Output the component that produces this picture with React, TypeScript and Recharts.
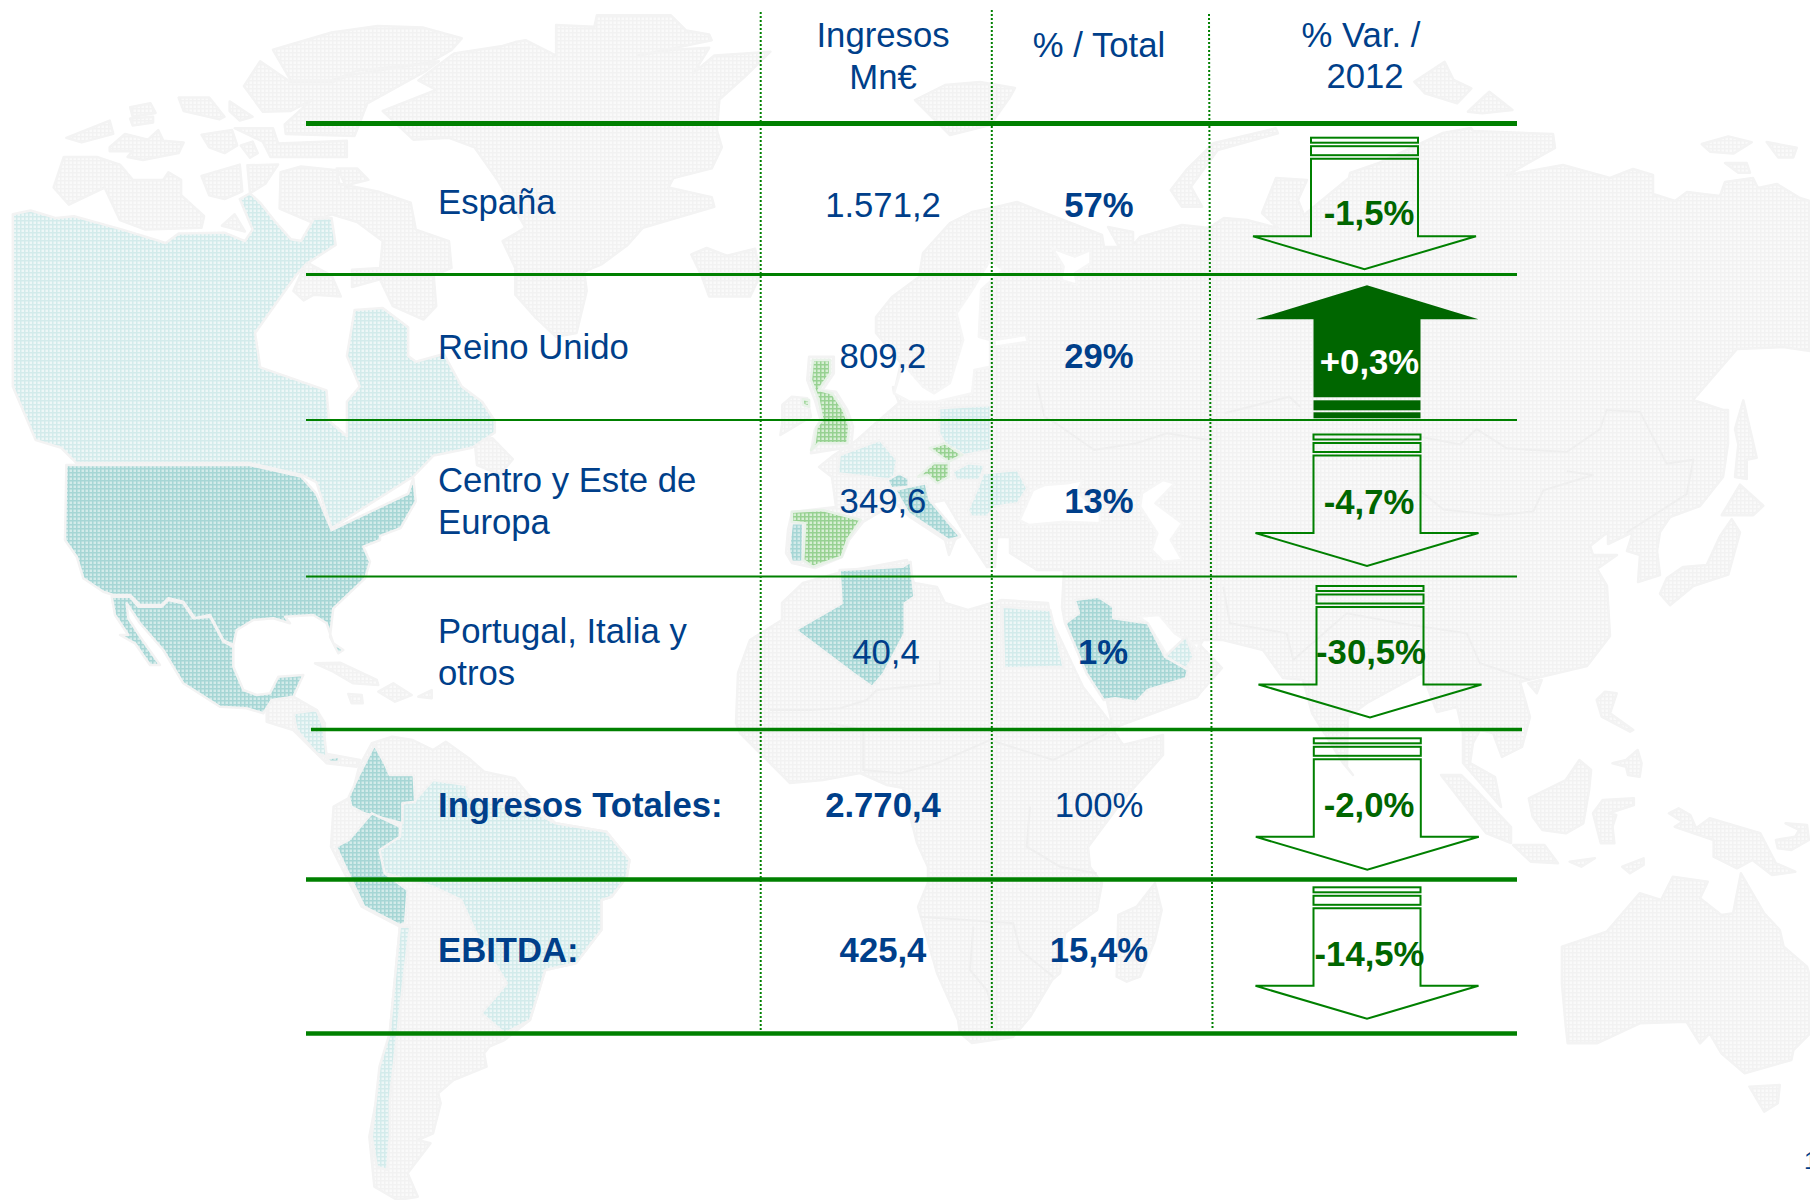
import { ComposedChart, ReferenceLine, Scatter, XAxis, YAxis } from "recharts"

const WIDTH = 1810
const HEIGHT = 1200
const BLUE = "#003f8a"
const GREEN = "#008000"
const DARK_GREEN = "#006600"
const FONT = "'Liberation Sans', Arial, sans-serif"

// table content
const headers = [["Ingresos", "Mn€"], ["% / Total"], ["% Var. /", "2012"]]
const regions = [["España"], ["Reino Unido"], ["Centro y Este de", "Europa"], ["Portugal, Italia y", "otros"], ["Ingresos Totales:"], ["EBITDA:"]]
const ingresos = ["1.571,2", "809,2", "349,6", "40,4", "2.770,4", "425,4"]
const pctTotal = ["57%", "29%", "13%", "1%", "100%", "15,4%"]
const variation = [-1.5, 0.3, -4.7, -30.5, -2.0, -14.5]
const pageNumber = "1"

const boldRegion = [false, false, false, false, true, true]
const boldIngresos = [false, false, false, false, true, true]
const boldPct = [true, true, true, true, false, true]

// table layout, in page pixels
const headerX = [[883, 883], [1099], [1361, 1365]]
const headerBaselines = [[47, 88.5], [57], [47, 88]]
const regionX = 438
const regionBaselines = [[214], [359], [492, 534], [643, 685], [817], [962]]
const ingresosX = [883, 883, 883, 886, 883, 883]
const pctX = [1099, 1099, 1099, 1103, 1099, 1099]
const rowBaseline = [217, 368, 513, 664, 817, 962]
const varX = [1369, 1369.5, 1369, 1371, 1369, 1369.5]
const varBaseline = [225, 374, 514, 664, 817, 966]
const arrowX = [1364.5, 1367, 1367, 1370, 1367.3, 1367]
const arrowTop = [137.7, 285.3, 434.5, 586, 738.3, 887.3]

const hRules = [
  { y: 123.5, x1: 306, x2: 1517, w: 5 },
  { y: 274.5, x1: 306, x2: 1517, w: 3 },
  { y: 420, x1: 306, x2: 1517, w: 2 },
  { y: 576.5, x1: 306, x2: 1517, w: 2 },
  { y: 729.5, x1: 311, x2: 1522, w: 3.5 },
  { y: 879.5, x1: 306, x2: 1517, w: 4.5 },
  { y: 1033.5, x1: 306, x2: 1517, w: 4.5 },
]
const vRules = [
  { x1: 760.7, y1: 12, x2: 760.7, y2: 1030 },
  { x1: 991.8, y1: 10, x2: 991.8, y2: 1030 },
  { x1: 1209, y1: 14, x2: 1212.5, y2: 1030 },
]

const crop = (ox: number, oy: number, sx: number, sy: number, pts: string) =>
  pts.trim().split(/\s+/).map((p) => {
    const [x, y] = p.split(",").map(Number)
    return `${(ox + x / sx).toFixed(1)},${(oy + y / sy).toFixed(1)}`
  }).join(" ")
const z2 = (s: string) => crop(0, 0, 1.96, 2.613, s)
const z3 = (s: string) => crop(700, 340, 2.613, 3, s)
const z4 = (s: string) => crop(1200, 700, 2.57, 3, s)
const z5 = (s: string) => crop(1400, 100, 3, 2.613, s)
const z6 = (s: string) => crop(280, 700, 1.96, 3, s)
const z7 = (s: string) => crop(40, 540, 3, 3, s)
const z8 = (s: string) => crop(740, 100, 2.24, 3, s)
const z9 = (s: string) => crop(1180, 500, 3, 3, s)
const z10 = (s: string) => crop(740, 640, 3, 3, s)
const z1 = (s: string) => crop(1000, 0, 2.8, 3, s)

const eurasia =
  "972,212 992,208 1017,202 1037,210 1102,235 1104,247 1119,247 1108,227 1133,232 1133,245 1140,237 1182,225 1209,228 1224,218 1247,220 1278,228 1262,213 1276,178 1307,180 1298,200 1304,215 1349,178 1350,173 1379,163 1443,133 1471,128 1473,131 1553,134 1555,148 1507,175 1563,165 1610,178 1633,169 1653,175 1653,194 1675,201 1687,192 1720,196 1725,182 1753,178 1758,188 1777,184 1800,198 1810,201 1810,351 1783,347 1737,349 1693,400 1723,410 1728,410 1728,444 1723,477 1700,506 1670,517 1660,532 1657,551 1660,575 1638,582 1640,555 1627,551 1633,532 1608,544 1608,532 1590,546 1593,555 1617,555 1597,569 1607,586 1610,636 1587,666 1520,682 1530,717 1522,747 1502,757 1493,733 1480,730 1473,743 1470,763 1495,777 1501,807 1463,763 1463,733 1457,707 1437,712 1422,673 1367,703 1348,717 1347,767 1353,775 1343,763 1312,713 1303,680 1283,678 1263,650 1223,640 1203,640 1200,645 1222,668 1200,693 1197,697 1113,728 1106,697 1087,673 1065,623 1062,607 1064,570 1037,570 1010,553 1010,537 997,537 995,567 987,567 964,532 945,500 930,503 960,535 955,540 949,555 945,540 910,517 895,503 863,522 849,540 842,557 815,568 792,563 786,553 788,530 792,512 836,507 832,477 819,467 834,455 857,440 876,423 899,403 893,387 894,393 901,363 876,333 876,317 892,297 919,277 923,253 950,223"
const africa =
  "838,573 803,583 782,603 782,620 750,640 738,673 736,723 740,733 760,753 790,783 823,780 860,773 887,785 903,788 917,843 928,867 928,883 918,907 937,973 958,1020 960,1033 972,1043 1013,1037 1030,1017 1052,980 1060,973 1065,933 1097,910 1102,883 1090,867 1088,847 1123,800 1163,755 1163,735 1123,745 1115,733 1112,725 1083,687 1050,617 1048,603 1002,600 968,610 945,603 937,587 914,583 907,560"

const grayLand = [
  eurasia,
  africa,
  z2("890,140 985,120 1010,110 1030,105 1090,145 1090,65 1165,70 1170,40 1315,40 1345,80 1390,90 1395,105 1250,145 1320,130 1390,125 1360,190 1400,145 1510,135 1460,200 1410,260 1405,340 1415,385 1395,440 1320,465 1310,490 1395,515 1400,540 1260,595 1230,640 1180,690 1145,710 1150,760 1130,870 1090,880 1050,830 1010,770 1010,700 985,630 1030,595 975,470 930,385 880,360 810,365 750,290 855,235 820,210 865,165"),
  z2("1355,665 1385,648 1425,668 1480,650 1490,720 1470,775 1390,775 1375,720"),
  z2("535,130 650,85 740,68 830,72 905,100 885,130 840,165 700,185 650,210 570,210"),
  z2("510,160 570,215 650,215 690,195 860,160 835,185 720,270 695,355 560,350 558,325 610,262 570,290 515,292 478,225"),
  z2("130,360 215,315 222,350 160,372"),
  z2("255,280 295,270 305,295 260,305"),
  z2("255,310 300,305 300,320 260,328"),
  z2("350,255 410,255 440,305 430,312 360,290"),
  z2("450,265 495,305 470,315 450,290"),
  z2("215,385 245,350 290,365 310,340 320,368 360,372 350,400 280,418 250,410 260,395 215,395"),
  z2("395,352 455,340 465,380 440,400 410,385"),
  z2("460,335 535,335 545,375 680,368 680,410 530,410 515,370"),
  z2("472,380 495,370 505,400 490,412"),
  z2("125,410 190,410 235,430 260,470 320,470 330,450 355,470 355,510 400,565 395,595 285,600 235,575 205,490 135,535 105,490"),
  z2("395,460 470,430 475,500 440,520 410,510"),
  z2("485,432 545,430 520,480 490,505"),
  z2("550,450 590,435 660,445 665,480 740,500 805,530 815,600 880,630 885,700 850,720 855,800 830,835 770,800 745,730 690,750 690,705 745,700 750,630 700,580 650,560 610,580 548,545"),
  z2("660,440 700,440 722,470 690,480 680,490"),
  z2("435,590 460,560 480,605"),
  z2("575,760 600,685 650,720 668,775 615,770 595,785"),
  z2("930,1150 965,1145 1005,1200 980,1240 935,1215"),
  z7("825,370 900,368 1010,420 1015,435 940,430 880,395"),
  z7("1015,455 1060,430 1115,465 1065,485"),
  z7("925,462 965,465 968,490 935,490"),
  z7("1135,470 1175,450 1175,475"),
  z7("680,505 700,470 760,470 830,510 855,550 850,640 960,660 950,680 860,670 760,570 680,545"),
  z6("180,130 220,110 260,120 300,150 325,125 370,175 400,215 460,235 490,290 540,370 640,395 685,480 680,530 650,590 630,600 630,690 580,790 520,810 490,960 440,1020 410,1040 400,1060 405,1100 340,1140 310,1180 315,1210 300,1300 270,1320 295,1330 250,1420 270,1490 230,1500 185,1460 175,1310 185,1230 215,1000 235,680 160,620 100,440 105,320 140,290 155,200"),
  z10("1245,730 1265,810 1245,900 1200,1010 1160,1025 1130,1010 1135,825 1190,800"),
  z3("215,195 240,170 280,175 290,230 210,285 215,250"),
  z3("285,50 350,50 350,100 320,150 355,155 385,210 400,260 395,320 290,340 295,300 300,270 315,240 300,180 280,120"),
  z8("965,270 1000,210 1060,130 1200,85 1205,100 1070,150 1010,260 1035,320 990,320"),
  "915,100 945,85 980,82 1015,88 1010,97 990,125 950,135 930,115",
  z1("1160,245 1245,185 1270,240 1320,265 1280,310 1190,280"),
  z1("1310,335 1370,275 1435,330 1350,340"),
  z5("905,115 985,95 1055,110 1000,140 930,135"),
  z5("1100,110 1190,125 1180,150 1135,150"),
  z5("975,165 1040,165 1050,190 1015,190"),
  z5("1005,860 1030,785 1070,935 1040,940 1040,990 1005,985 1015,900"),
  z5("965,1085 1020,1005 1090,1060 1060,1085"),
  z5("780,1290 800,1250 850,1220 920,1215 960,1140 995,1095 1020,1130 985,1240 880,1270 810,1320"),
  z9("1045,550 1085,540 1070,580"),
  z9("1250,600 1275,575 1310,580 1290,640 1360,690 1350,695 1265,650"),
  "1441,775 1461,775 1478,792 1511,827 1511,843 1486,833",
  z4("845,295 940,240 975,180 1005,210 1000,270 985,370 940,400 880,390 855,350"),
  z4("1010,340 1035,300 1115,295 1115,315 1050,340 1070,345 1060,380 1065,430 1030,430"),
  z4("805,435 885,435 920,490 850,485"),
  z4("950,485 1015,475 980,500"),
  z4("1085,500 1140,475 1140,495 1105,520"),
  z4("1060,190 1095,180 1125,150 1135,190 1130,230 1100,225 1095,200"),
  z4("1205,340 1230,325 1260,345 1275,385 1310,355 1440,400 1480,490 1530,515 1470,525 1420,480 1380,505 1320,470 1320,420 1220,380 1240,365"),
  z4("1505,370 1560,375 1565,420 1520,450 1485,445 1480,420 1530,410 1540,390"),
  z4("930,740 1045,695 1130,580 1185,600 1215,530 1305,545 1285,595 1340,645 1370,640 1390,520 1450,640 1490,690 1500,740 1560,800 1568,830 1568,1000 1525,1050 1520,1080 1400,1120 1340,1060 1310,1000 1285,1030 1250,965 1130,970 1020,1030 945,1030 940,980 930,850"),
  z4("1412,1160 1490,1155 1485,1210 1450,1235"),
]
const seas = [
  z3("835,540 870,450 900,435 960,430 1000,420 985,455 1045,520 1045,550 950,545 860,555"),
  z3("1155,460 1210,420 1240,430 1190,490 1260,550 1230,600 1260,660 1210,665 1180,630 1195,580 1150,500"),
  z3("1145,830 1200,825 1240,880 1280,910 1305,910 1300,930 1270,890 1220,945 1170,850"),
  z8("700,445 750,470 785,450 785,490 750,520 755,555 720,540 725,500"),
  z8("560,480 590,510 540,570 535,710 560,720 560,800 525,810 520,880 440,905 380,905 345,880 365,790 410,860 435,880 470,850 500,720 485,640 520,570"),
  z8("570,720 640,705 645,725 570,740"),
]
const lightTeal = [
  z2("25,560 60,550 110,570 145,565 240,600 325,635 350,610 440,608 480,630 495,600 470,520 490,505 510,530 540,580 570,625 590,630 615,572 650,570 658,640 600,690 580,720 500,870 510,960 640,1020 645,1100 680,1140 680,1050 705,1010 680,930 695,810 750,805 800,855 800,930 815,945 870,925 905,1010 945,1050 970,1100 970,1130 925,1170 850,1190 810,1245 650,1380 620,1260 590,1240 490,1210 150,1210 120,1170 70,1150 25,1010"),
  z7("760,520 830,510 850,560 860,650 830,640 770,570"),
  z6("200,430 235,410 240,310 262,305 300,240 365,255 370,290 490,330 540,370 640,395 685,480 680,530 650,590 630,600 630,690 580,790 520,810 490,960 440,1000 395,940 445,850 385,700 355,600 300,560 205,520 190,470"),
  z6("235,680 255,680 245,800 230,1000 215,1200 215,1310 210,1410 190,1400 180,1310 195,1100 215,1000"),
  z3("365,345 470,300 515,360 505,420 360,400"),
  z3("625,205 760,195 760,330 690,345 640,310 625,280"),
  z3("660,395 700,370 745,375 730,420 670,420"),
  z3("740,400 830,390 855,445 830,490 770,500 750,530 710,530 700,510 720,460"),
  z3("790,800 915,810 950,980 795,985"),
  z3("1215,950 1270,890 1290,950 1270,985"),
]
const teal = [
  // USA: northern border from the overview crop, southern coast from the detail crop
  z2("130,1215 490,1215 590,1245 620,1290 650,1385 800,1290 810,1250 815,1310 785,1380 745,1400") + " " +
    z7("1020,0 970,20 990,65 975,115 880,205 870,290 895,340 910,330 880,310 860,250 820,225 735,230 750,250 700,235 640,240 590,270 580,315 550,300 510,225 465,235 430,185 385,175 365,195 300,195 270,165 220,165 190,155 130,115 110,50 75,0"),
  z7("215,170 270,170 295,200 365,200 385,180 430,190 460,235 510,230 550,305 580,320 580,380 610,450 650,465 690,460 715,410 790,405 760,470 695,480 670,520 620,505 540,500 430,430 370,330 300,250 260,190 265,235 300,290 360,375 330,375 285,310 240,285 265,285 225,225"),
  z7("860,655 900,650 895,665 870,665"),
  z6("185,135 205,190 215,225 262,225 265,305 240,310 240,370 165,340 140,320 135,290 155,225"),
  z6("135,420 180,340 235,380 235,410 195,450 205,520 250,570 245,670 235,675 165,620 110,440"),
  z3("365,690 530,680 550,665 560,770 535,790 535,880 480,1000 450,1040 400,1000 250,870 370,790"),
  z3("980,780 1040,770 1080,800 1080,835 1170,850 1215,950 1275,990 1270,1015 1170,1050 1140,1085 1085,1075 1055,1080 1010,1000 955,850 990,820"),
  z3("490,420 520,400 545,415 545,440 500,445"),
  z3("510,450 545,440 590,430 600,480 680,590 650,600 545,520"),
  z3("240,550 270,550 268,665 240,665 232,630"),
]
const green = [
  z3("295,60 340,60 340,100 310,150 345,160 375,210 390,260 385,310 310,310 290,330 300,305 305,260 320,240 310,180 290,120"),
  z3("268,178 285,180 285,200 270,195"),
  z3("240,515 320,510 420,540 385,600 370,650 295,680 270,660 275,550 240,545"),
  z3("600,325 640,310 685,345 650,365"),
  z3("570,410 610,370 650,370 650,410 620,430 595,405"),
]
const borders = [
  z3("1370,220 1540,170 1568,200"),
  z3("880,130 900,230 930,250 1030,330 1140,310 1220,280 1330,300"),
  z10("90,210 210,210 300,205 380,180 410,150 600,130 600,60"),
  z10("270,250 370,270 370,390 480,400 590,370 750,300 940,360 1100,280"),
  z10("870,500 860,620 960,680 1070,700"),
  z10("540,830 820,850 840,930 940,1010"),
  z10("700,860 690,990 740,1050 770,1140"),
  z9("130,260 150,370 320,400 340,480 500,340 660,370 860,400 900,490 1050,540"),
  z5("60,880 180,900 230,860 320,910 500,920 600,860 620,810 720,815 800,950 880,940 860,1030 680,1130"),
  z5("60,1020 130,1070 290,1085 400,1075 430,1020 580,980 500,970"),
]

const MapPattern = ({ id, bg, line }: { id: string; bg: string; line: string }) => (
  <pattern id={id} width={4} height={4} patternUnits="userSpaceOnUse">
    <rect width={4} height={4} fill={bg} />
    <rect width={1.5} height={4} fill={line} />
    <rect width={4} height={1.5} fill={line} />
  </pattern>
)

function WorldMap() {
  const layer = (list: string[], fill: string, stroke = "#f3f3f3") =>
    list.map((pts, i) => <polygon key={i} points={pts} fill={fill} stroke={stroke} strokeWidth={2.5} strokeLinejoin="round" />)
  return (
    <svg width={WIDTH} height={HEIGHT} style={{ position: "absolute", left: 0, top: 0 }}>
      <defs>
        <MapPattern id="land" bg="#fafafa" line="#f2f2f2" />
        <MapPattern id="ltTeal" bg="#eef7f7" line="#d3ebeb" />
        <MapPattern id="teal" bg="#d3ebea" line="#a6d6d5" />
        <MapPattern id="green" bg="#d8efd5" line="#97d192" />
      </defs>
      {layer(grayLand, "url(#land)")}
      {layer(seas, "#ffffff", "#f6f6f6")}
      {borders.map((pts, i) => (
        <polyline key={i} points={pts} fill="none" stroke="#efefef" strokeWidth={2} />
      ))}
      {layer(lightTeal, "url(#ltTeal)")}
      {layer(teal, "url(#teal)")}
      {layer(green, "url(#green)", "#e8f2e8")}
    </svg>
  )
}

const cellText = (text: string, x: number, y: number, opts: { bold?: boolean; anchor?: string; fill?: string; size?: number } = {}) => ({
  text, x, y, bold: !!opts.bold, anchor: opts.anchor ?? "middle", fill: opts.fill ?? BLUE, size: opts.size ?? 34.7,
})

const fmtVar = (v: number) => `${v > 0 ? "+" : "-"}${Math.abs(v).toFixed(1).replace(".", ",")}%`

const textCells = [
  ...headers.flatMap((lines, c) => lines.map((t, l) => cellText(t, headerX[c][l], headerBaselines[c][l]))),
  ...regions.flatMap((lines, r) => lines.map((t, l) => cellText(t, regionX, regionBaselines[r][l], { bold: boldRegion[r], anchor: "start" }))),
  ...ingresos.map((t, r) => cellText(t, ingresosX[r], rowBaseline[r], { bold: boldIngresos[r] })),
  ...pctTotal.map((t, r) => cellText(t, pctX[r], rowBaseline[r], { bold: boldPct[r] })),
  cellText(pageNumber, 1804, 1169, { anchor: "start", size: 24 }),
]
const varCells = variation.map((v, r) =>
  cellText(fmtVar(v), varX[r], varBaseline[r], { bold: true, fill: v > 0 ? "#ffffff" : DARK_GREEN })
)
const arrowCells = variation.map((v, r) => ({ x: arrowX[r], y: arrowTop[r], up: v > 0 }))

const TextCell = ({ cx, cy, payload }: any) => (
  <text x={cx} y={cy} textAnchor={payload.anchor} fill={payload.fill} fontFamily={FONT} fontSize={payload.size} fontWeight={payload.bold ? 700 : 400}>
    {payload.text}
  </text>
)

// block arrow, cy is its top edge
const ARROW_W = 223
const SHAFT_W = 107
const ArrowCell = ({ cx, cy, payload }: any) => {
  const hw = ARROW_W / 2
  const sw = SHAFT_W / 2
  if (payload.up) {
    const body = `${cx},${cy} ${cx + hw},${cy + 34} ${cx + sw},${cy + 34} ${cx + sw},${cy + 112} ${cx - sw},${cy + 112} ${cx - sw},${cy + 34} ${cx - hw},${cy + 34}`
    return (
      <g fill={DARK_GREEN} stroke="none">
        <polygon points={body} />
        <rect x={cx - sw} y={cy + 115} width={SHAFT_W} height={10} />
        <rect x={cx - sw} y={cy + 127} width={SHAFT_W} height={6} />
      </g>
    )
  }
  const body = `${cx - sw},${cy + 21} ${cx + sw},${cy + 21} ${cx + sw},${cy + 98.5} ${cx + hw},${cy + 98.5} ${cx},${cy + 131.5} ${cx - hw},${cy + 98.5} ${cx - sw},${cy + 98.5}`
  return (
    <g fill="none" stroke={GREEN} strokeWidth={2} strokeMiterlimit={3}>
      <rect x={cx - sw} y={cy} width={SHAFT_W} height={5} />
      <rect x={cx - sw} y={cy + 8.5} width={SHAFT_W} height={9} />
      <polygon points={body} />
    </g>
  )
}

export default function App() {
  return (
    <div style={{ position: "absolute", left: 0, top: 0, width: WIDTH, height: HEIGHT, background: "#ffffff", overflow: "hidden" }}>
      <WorldMap />
      <div style={{ position: "absolute", left: 0, top: 0 }}>
        <ComposedChart width={WIDTH} height={HEIGHT} margin={{ top: 0, right: 0, bottom: 0, left: 0 }}>
          <XAxis type="number" dataKey="x" domain={[0, WIDTH]} hide />
          <YAxis type="number" dataKey="y" domain={[0, HEIGHT]} reversed hide />
          {vRules.map((r, i) => (
            <ReferenceLine key={`v${i}`} segment={[{ x: r.x1, y: r.y1 }, { x: r.x2, y: r.y2 }]} stroke={GREEN} strokeWidth={2} strokeDasharray="2 2" />
          ))}
          {hRules.map((r, i) => (
            <ReferenceLine key={`h${i}`} segment={[{ x: r.x1, y: r.y }, { x: r.x2, y: r.y }]} stroke={GREEN} strokeWidth={r.w} />
          ))}
          <Scatter data={arrowCells} shape={ArrowCell} isAnimationActive={false} />
          <Scatter data={textCells} shape={TextCell} isAnimationActive={false} />
          <Scatter data={varCells} shape={TextCell} isAnimationActive={false} />
        </ComposedChart>
      </div>
    </div>
  )
}
